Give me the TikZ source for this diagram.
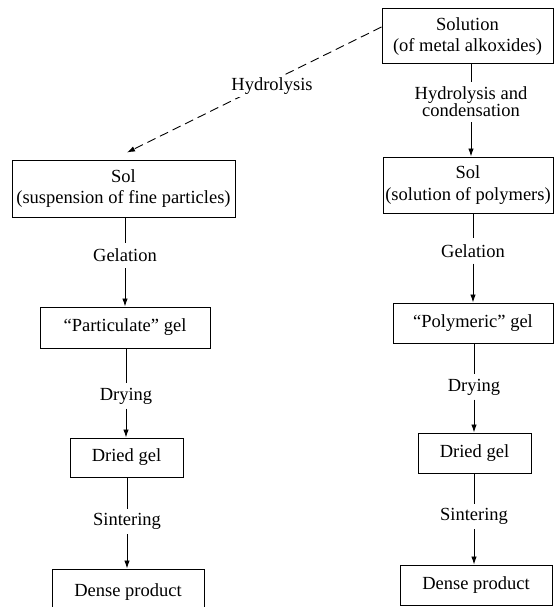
\documentclass[tikz,border=0pt]{standalone}
\usepackage{fontspec}
\setmainfont{Liberation Serif}
\usetikzlibrary{arrows.meta}
\begin{document}
\begin{tikzpicture}[x=1pt,y=-1pt,
  box/.style={draw, line width=1pt, inner sep=0pt, align=center, font=\fontsize{18.5}{21.5}\selectfont},
  lab/.style={inner xsep=2pt, inner ysep=0pt, minimum height=25pt, align=center, font=\fontsize{18.5}{17}\selectfont},
  conn/.style={line width=0.9pt},
  arr/.style={conn, -{Latex[length=8pt,width=5.5pt]}},
]
\useasboundingbox (0,0) rectangle (554,607);
% boxes
\node[box, minimum width=171pt, minimum height=55pt] (sol0) at (467.5,36.5) {Solution\\(of metal alkoxides)};
\node[box, minimum width=170pt, minimum height=56pt] (solR) at (468,185) {Sol\\(solution of polymers)};
\node[box, minimum width=223pt, minimum height=57pt] (solL) at (123.5,188.5) {Sol\\(suspension of fine particles)};
\node[box, minimum width=170pt, minimum height=41pt] (gelL) at (125,327.5) {“Particulate” gel};
\node[box, minimum width=160pt, minimum height=40pt] (gelR) at (473,323) {“Polymeric” gel};
\node[box, minimum width=113pt, minimum height=39pt] (dryL) at (126.5,457.5) {Dried gel};
\node[box, minimum width=113pt, minimum height=40pt] (dryR) at (474.5,453) {Dried gel};
\node[box, minimum width=152pt, minimum height=46pt] (denL) at (128,592) {Dense product};
\node[box, minimum width=152pt, minimum height=40pt] (denR) at (476,585) {Dense product};
% labels
\node[lab, minimum height=40pt] (hcR) at (471,102) {Hydrolysis and\\condensation};
\node[lab] (gLL) at (125,255.5) {Gelation};
\node[lab] (gLR) at (473,251) {Gelation};
\node[lab] (dLL) at (126,396) {Drying};
\node[lab] (dLR) at (474,387) {Drying};
\node[lab] (sLL) at (127,521.5) {Sintering};
\node[lab] (sLR) at (474,516.5) {Sintering};
% right column connectors
\draw[conn] (hcR.north |- sol0.south) -- (hcR.north);
\draw[arr] (hcR.south) -- (hcR.south |- solR.north);
\draw[conn] (gLR.north |- solR.south) -- (gLR.north);
\draw[arr] (gLR.south) -- (gLR.south |- gelR.north);
\draw[conn] (dLR.north |- gelR.south) -- (dLR.north);
\draw[arr] (dLR.south) -- (dLR.south |- dryR.north);
\draw[conn] (sLR.north |- dryR.south) -- (sLR.north);
\draw[arr] (sLR.south) -- (sLR.south |- denR.north);
% left column connectors
\draw[conn] (gLL.north |- solL.south) -- (gLL.north);
\draw[arr] (gLL.south) -- (gLL.south |- gelL.north);
\draw[conn] (dLL.north |- gelL.south) -- (dLL.north);
\draw[arr] (dLL.south) -- (dLL.south |- dryL.north);
\draw[conn] (sLL.north |- dryL.south) -- (sLL.north);
\draw[arr] (sLL.south) -- (sLL.south |- denL.north);
% dashed hydrolysis arrow
\draw[arr, dash pattern=on 9pt off 5pt] ([yshift=9.5pt]sol0.west) -- ([xshift=3.5pt,yshift=7pt]solL.north);
\node[fill=white, inner sep=3pt, font=\fontsize{18.5}{17}\selectfont] (hyd) at (272,86) {Hydrolysis};
\end{tikzpicture}
\end{document}
